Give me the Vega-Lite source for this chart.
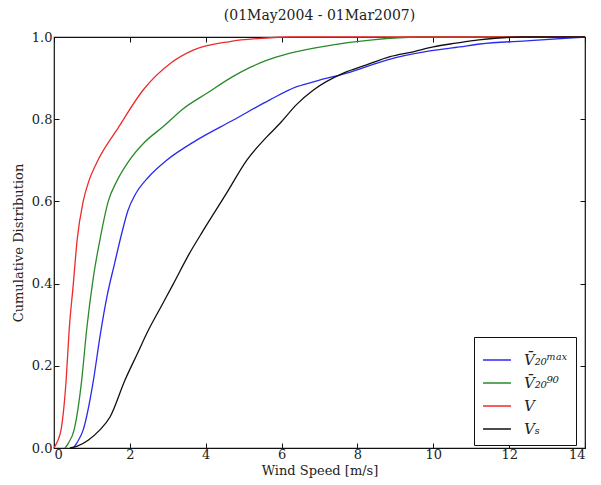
{
  "$schema": "https://vega.github.io/schema/vega-lite/v6.json",
  "width": 531,
  "height": 411,
  "autosize": {"type": "none"},
  "padding": {"left": 54, "top": 37, "right": 16, "bottom": 37},
  "background": "white",
  "title": {"text": "(01May2004 - 01Mar2007)", "font": "DejaVu Serif", "fontSize": 14, "fontWeight": "normal", "color": "#222", "offset": 8},
  "config": {
    "view": {"stroke": "#111", "strokeWidth": 1.2},
    "axis": {"labelFont": "DejaVu Serif", "titleFont": "DejaVu Serif", "labelFontSize": 13, "titleFontSize": 13, "titleFontWeight": "normal", "labelColor": "#222", "titleColor": "#222", "grid": false, "domain": false, "tickColor": "#111", "tickSize": -5, "labelPadding": 7}
  },
  "data": {"values": [
    {"s": "max", "v": 0.51, "c": 0}, {"s": "max", "v": 0.6, "c": 0.012}, {"s": "max", "v": 0.77, "c": 0.044}, {"s": "max", "v": 1.04, "c": 0.165}, {"s": "max", "v": 1.21, "c": 0.27}, {"s": "max", "v": 1.4, "c": 0.37}, {"s": "max", "v": 1.6, "c": 0.45}, {"s": "max", "v": 1.78, "c": 0.52}, {"s": "max", "v": 1.95, "c": 0.578}, {"s": "max", "v": 2.15, "c": 0.618}, {"s": "max", "v": 2.5, "c": 0.66}, {"s": "max", "v": 2.97, "c": 0.7}, {"s": "max", "v": 3.76, "c": 0.749}, {"s": "max", "v": 4.73, "c": 0.798}, {"s": "max", "v": 5.69, "c": 0.847}, {"s": "max", "v": 6.4, "c": 0.879}, {"s": "max", "v": 7.0, "c": 0.895}, {"s": "max", "v": 7.72, "c": 0.912}, {"s": "max", "v": 8.77, "c": 0.944}, {"s": "max", "v": 9.91, "c": 0.966}, {"s": "max", "v": 10.7, "c": 0.976}, {"s": "max", "v": 11.23, "c": 0.983}, {"s": "max", "v": 12.55, "c": 0.991}, {"s": "max", "v": 14, "c": 1.0},
    {"s": "p90", "v": 0.29, "c": 0}, {"s": "p90", "v": 0.38, "c": 0.012}, {"s": "p90", "v": 0.53, "c": 0.044}, {"s": "p90", "v": 0.73, "c": 0.165}, {"s": "p90", "v": 0.86, "c": 0.287}, {"s": "p90", "v": 1.04, "c": 0.417}, {"s": "p90", "v": 1.21, "c": 0.506}, {"s": "p90", "v": 1.43, "c": 0.6}, {"s": "p90", "v": 1.66, "c": 0.65}, {"s": "p90", "v": 1.95, "c": 0.695}, {"s": "p90", "v": 2.4, "c": 0.745}, {"s": "p90", "v": 2.88, "c": 0.782}, {"s": "p90", "v": 3.4, "c": 0.825}, {"s": "p90", "v": 4.03, "c": 0.863}, {"s": "p90", "v": 4.7, "c": 0.903}, {"s": "p90", "v": 5.17, "c": 0.926}, {"s": "p90", "v": 5.6, "c": 0.943}, {"s": "p90", "v": 6.2, "c": 0.96}, {"s": "p90", "v": 7.36, "c": 0.981}, {"s": "p90", "v": 8.4, "c": 0.993}, {"s": "p90", "v": 9.6, "c": 1.0}, {"s": "p90", "v": 14, "c": 1.0},
    {"s": "V", "v": 0, "c": 0}, {"s": "V", "v": 0.07, "c": 0.012}, {"s": "V", "v": 0.2, "c": 0.052}, {"s": "V", "v": 0.32, "c": 0.165}, {"s": "V", "v": 0.4, "c": 0.287}, {"s": "V", "v": 0.51, "c": 0.4}, {"s": "V", "v": 0.61, "c": 0.506}, {"s": "V", "v": 0.77, "c": 0.6}, {"s": "V", "v": 0.92, "c": 0.65}, {"s": "V", "v": 1.12, "c": 0.693}, {"s": "V", "v": 1.7, "c": 0.78}, {"s": "V", "v": 2.35, "c": 0.871}, {"s": "V", "v": 3.1, "c": 0.938}, {"s": "V", "v": 3.67, "c": 0.968}, {"s": "V", "v": 4.64, "c": 0.989}, {"s": "V", "v": 5.5, "c": 0.997}, {"s": "V", "v": 6.2, "c": 1.0}, {"s": "V", "v": 14, "c": 1.0},
    {"s": "Vs", "v": 0.42, "c": 0}, {"s": "Vs", "v": 0.6, "c": 0.004}, {"s": "Vs", "v": 0.9, "c": 0.019}, {"s": "Vs", "v": 1.21, "c": 0.044}, {"s": "Vs", "v": 1.48, "c": 0.076}, {"s": "Vs", "v": 1.87, "c": 0.165}, {"s": "Vs", "v": 2.2, "c": 0.23}, {"s": "Vs", "v": 2.49, "c": 0.287}, {"s": "Vs", "v": 2.8, "c": 0.34}, {"s": "Vs", "v": 3.15, "c": 0.4}, {"s": "Vs", "v": 3.55, "c": 0.47}, {"s": "Vs", "v": 3.94, "c": 0.53}, {"s": "Vs", "v": 4.55, "c": 0.62}, {"s": "Vs", "v": 5.08, "c": 0.7}, {"s": "Vs", "v": 5.61, "c": 0.757}, {"s": "Vs", "v": 5.96, "c": 0.79}, {"s": "Vs", "v": 6.4, "c": 0.836}, {"s": "Vs", "v": 6.84, "c": 0.871}, {"s": "Vs", "v": 7.63, "c": 0.912}, {"s": "Vs", "v": 8.24, "c": 0.932}, {"s": "Vs", "v": 8.86, "c": 0.952}, {"s": "Vs", "v": 9.47, "c": 0.964}, {"s": "Vs", "v": 10.0, "c": 0.976}, {"s": "Vs", "v": 10.6, "c": 0.985}, {"s": "Vs", "v": 11.2, "c": 0.993}, {"s": "Vs", "v": 12.3, "c": 1.0}, {"s": "Vs", "v": 14, "c": 1.0}
  ]},
  "layer": [
    {
      "mark": {"type": "line", "strokeWidth": 1.3, "interpolate": "monotone"},
      "encoding": {
        "x": {"field": "v", "type": "quantitative", "scale": {"domain": [0, 14], "nice": false}, "axis": {"title": "Wind Speed [m/s]", "values": [0, 2, 4, 6, 8, 10, 12, 14], "format": "d", "titlePadding": 3, "labelPadding": 5}},
        "y": {"field": "c", "type": "quantitative", "scale": {"domain": [0, 1], "nice": false}, "axis": {"title": "Cumulative Distribution", "values": [0, 0.2, 0.4, 0.6, 0.8, 1.0], "format": ".1f", "titlePadding": 6, "labelPadding": 7}},
        "color": {
          "field": "s", "type": "nominal",
          "scale": {"domain": ["max", "p90", "V", "Vs"], "range": ["#2a2aee", "#2a8a2a", "#ee2a2a", "#111111"]},
          "legend": {
            "title": null, "orient": "none", "legendX": 420, "legendY": 300,
            "labelExpr": "datum.value == 'max' ? 'V̄₂₀ᵐᵃˣ' : datum.value == 'p90' ? 'V̄₂₀⁹⁰' : datum.value == 'V' ? 'V' : 'Vₛ'",
            "symbolType": "stroke", "symbolSize": 780, "symbolStrokeWidth": 1.5,
            "labelFont": "DejaVu Serif", "labelFontStyle": "italic", "labelFontSize": 15, "labelColor": "#222",
            "strokeColor": "#111", "fillColor": "white", "padding": 8, "rowPadding": 0, "labelOffset": 12
          }
        }
      }
    },
    {
      "mark": {"type": "point", "opacity": 0},
      "encoding": {
        "x": {"field": "v", "type": "quantitative", "axis": {"orient": "top", "labels": false, "title": null, "values": [0, 2, 4, 6, 8, 10, 12, 14]}},
        "y": {"field": "c", "type": "quantitative", "axis": {"orient": "right", "labels": false, "title": null, "values": [0, 0.2, 0.4, 0.6, 0.8, 1.0]}}
      }
    }
  ],
  "resolve": {"axis": {"x": "independent", "y": "independent"}}
}
